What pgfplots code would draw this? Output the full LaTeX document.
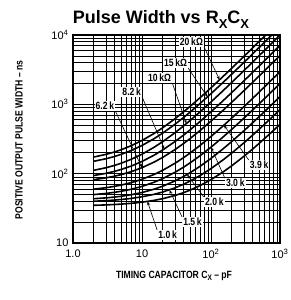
\documentclass[border=0pt]{standalone}
\usepackage{fontspec}
\setmainfont{Liberation Sans}
\newfontfamily\condfont[FakeStretch=0.82]{Liberation Sans}
\usepackage{pgfplots}
\pgfplotsset{compat=1.18}
\usetikzlibrary{arrows.meta}
\begin{document}
\begin{tikzpicture}[
  lbl/.style={fill=white, inner sep=1pt, font=\condfont\bfseries\fontsize{10.5}{12}\selectfont},
  ldr/.style={line width=0.6pt, -{Stealth[length=4pt,width=3pt]}},
  crv/.style={black, solid, line width=1.6pt, mark=none},
]
\path[use as bounding box] (-73pt,-57pt) rectangle (218pt,243pt);
\begin{axis}[
  at={(0pt,0pt)}, anchor=south west,
  scale only axis, width=207pt, height=208pt,
  xmode=log, ymode=log,
  xmin=1, xmax=1000, ymin=10, ymax=10000,
  xtick={1,10,100,1000},
  xticklabels={1.0,10,10\textsuperscript{2},10\textsuperscript{3}},
  ytick={10,100,1000,10000},
  yticklabels={10,10\textsuperscript{2},10\textsuperscript{3},10\textsuperscript{4}},
  ticklabel style={font=\fontsize{11}{12}\selectfont},
  xticklabel style={yshift=-3pt},
  yticklabel style={xshift=-1pt},
  major tick length=0pt, minor tick length=0pt,
  grid=both,
  major grid style={black, line width=0.8pt},
  minor grid style={black, line width=0.6pt},
  axis line style={black, line width=1.3pt},
]
% 20k
\addplot[crv] coordinates {(2,173.8)(3,189.7)(4,205.6)(5,221.5)(7,253.3)(10,301)(15,380.5)(20,460)(30,619)(40,778)(50,937)(70,1255)(100,1732)(150,2527)(200,3322)(300,4912)(400,6502)(500,8092)(700,11272)(1000,16042)};
% 15k
\addplot[crv] coordinates {(2,151)(3,164)(4,177)(5,190)(7,216)(10,255)(15,320)(20,385)(30,515)(40,645)(50,775)(70,1035)(100,1425)(150,2075)(200,2725)(300,4025)(400,5325)(500,6625)(700,9225)(1000,13125)};
% 10k
\addplot[crv] coordinates {(2,111.8)(3,121.7)(4,131.6)(5,141.5)(7,161.3)(10,191)(15,240.5)(20,290)(30,389)(40,488)(50,587)(70,785)(100,1082)(150,1577)(200,2072)(300,3062)(400,4052)(500,5042)(700,7022)(1000,9992)};
% 8.2k
\addplot[crv] coordinates {(2,94)(3,101)(4,108)(5,115)(7,129)(10,150)(15,185)(20,220)(30,290)(40,360)(50,430)(70,570)(100,780)(150,1130)(200,1480)(300,2180)(400,2880)(500,3580)(700,4980)(1000,7080)};
% 6.2k
\addplot[crv] coordinates {(2,82)(3,87)(4,92)(5,97)(7,107)(10,122)(15,147)(20,172)(30,222)(40,272)(50,322)(70,422)(100,572)(150,822)(200,1072)(300,1572)(400,2072)(500,2572)(700,3572)(1000,5072)};
% 3.9k
\addplot[crv] coordinates {(2,59.8)(3,62.7)(4,65.6)(5,68.5)(7,74.3)(10,83)(15,97.5)(20,112)(30,141)(40,170)(50,199)(70,257)(100,344)(150,489)(200,634)(300,924)(400,1214)(500,1504)(700,2084)(1000,2954)};
% 3.0k
\addplot[crv] coordinates {(2,49.9)(3,51.85)(4,53.8)(5,55.75)(7,59.65)(10,65.5)(15,75.25)(20,85)(30,104.5)(40,124)(50,143.5)(70,182.5)(100,241)(150,338.5)(200,436)(300,631)(400,826)(500,1021)(700,1411)(1000,1996)};
% 2.0k
\addplot[crv] coordinates {(2,43.5)(3,44.75)(4,46)(5,47.25)(7,49.75)(10,53.5)(15,59.75)(20,66)(30,78.5)(40,91)(50,103.5)(70,128.5)(100,166)(150,228.5)(200,291)(300,416)(400,541)(500,666)(700,916)(1000,1291)};
% 1.5k
\addplot[crv] coordinates {(2,40)(3,40.8)(4,41.6)(5,42.4)(7,44)(10,46.4)(15,50.4)(20,54.4)(30,62.4)(40,70.4)(50,78.4)(70,94.4)(100,118.4)(150,158.4)(200,198.4)(300,278.4)(400,358.4)(500,438.4)(700,598.4)(1000,838.4)};
% 1.0k
\addplot[crv] coordinates {(2,34.96)(3,35.44)(4,35.92)(5,36.4)(7,37.36)(10,38.8)(15,41.2)(20,43.6)(30,48.4)(40,53.2)(50,58)(70,67.6)(100,82)(150,106)(200,130)(300,178)(400,226)(500,274)(700,370)(1000,514)};

\node[lbl] (l20) at (axis cs:52,7930) {20\,kΩ};
\node[lbl] (l15) at (axis cs:30.6,3945) {15\,kΩ};
\node[lbl] (l10) at (axis cs:18,2399) {10\,kΩ};
\node[lbl] (l82) at (axis cs:7.1,1506) {8.2\,k};
\node[lbl] (l62) at (axis cs:2.9,945) {6.2\,k};
\node[lbl] (l39) at (axis cs:499,133) {3.9\,k};
\node[lbl] (l30) at (axis cs:225,73) {3.0\,k};
\node[lbl] (l20b) at (axis cs:112,38.9) {2.0\,k};
\node[lbl] (l15b) at (axis cs:54,20) {1.5\,k};
\node[lbl] (l10b) at (axis cs:23.5,13) {1.0\,k};

\draw[ldr] (l20.south east) -- (axis cs:133,2257);
\draw[ldr] (l15.south east) -- (axis cs:89,1282);
\draw[ldr] (l10.south east) -- (axis cs:44,528);
\draw[ldr] (l82.south east) -- (axis cs:21,227);
\draw[ldr] (l62.south east) -- (axis cs:10,122);
\draw[ldr] (l39.north west) -- (axis cs:154,500.6);
\draw[ldr] (l30.north west) -- (axis cs:100,241);
\draw[ldr] (l20b.north west) -- (axis cs:45,97.25);
\draw[ldr] (l15b.north west) -- (axis cs:25,58.4);
\draw[ldr] (l10b.north west) -- (axis cs:12,39.8);
\end{axis}
\node[anchor=base, font=\bfseries\fontsize{18}{20}\selectfont] at (88pt,219pt)
  {Pulse Width vs R\raisebox{-0.25em}{\fontsize{13}{14}\selectfont X}C\raisebox{-0.25em}{\fontsize{13}{14}\selectfont X}};
\node[anchor=base, font=\condfont\bfseries\fontsize{10.5}{12}\selectfont] at (101pt,-35pt)
  {TIMING CAPACITOR C\raisebox{-0.2em}{\fontsize{8}{9}\selectfont X} – pF};
\node[rotate=90, font=\condfont\bfseries\fontsize{10.5}{12}\selectfont] at (-54pt,103pt)
  {POSITIVE OUTPUT PULSE WIDTH – ns};
\end{tikzpicture}
\end{document}
